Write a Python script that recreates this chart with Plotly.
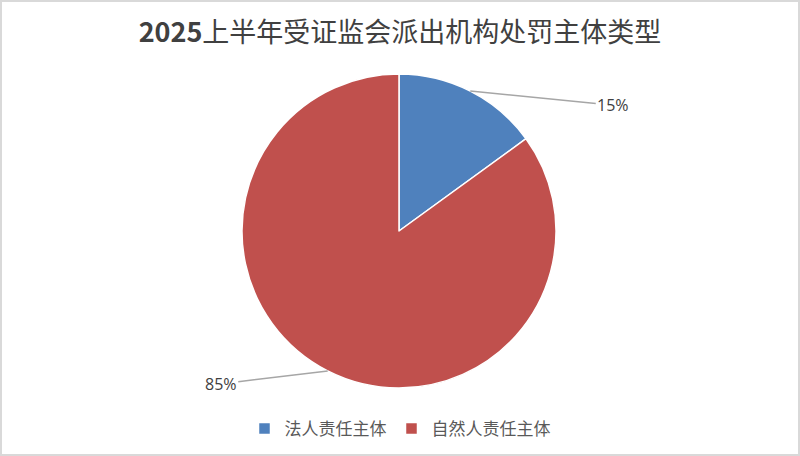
import math
import plotly.graph_objects as go

# data
categories = ["法人责任主体", "自然人责任主体"]
shares = [15, 85]
colors = ["#4F81BD", "#C0504D"]
title_text = "<b>2025</b>上半年受证监会派出机构处罚主体类型"

W, H = 800, 456
cx, cy, r = 399, 231, 157          # pie centre / radius in pixels
label_offsets = [(143, 14), (-107, 13)]  # where the % text sits relative to slice edge

fig = go.Figure(go.Pie(
    labels=categories,
    values=shares,
    sort=False,
    direction="clockwise",
    rotation=0,
    textinfo="none",
    hoverinfo="label+percent",
    marker=dict(colors=colors, line=dict(color="white", width=1.5)),
    domain=dict(x=[(cx - r) / W, (cx + r) / W],
                y=[1 - (cy + r) / H, 1 - (cy - r) / H]),
))

# outside percentage labels with leader lines, placed at each slice's mid angle
total = sum(shares)
cum = 0
annotations = []
for val, (ax, ay) in zip(shares, label_offsets):
    mid = (cum + val / 2) / total * 2 * math.pi
    cum += val
    px = cx + r * math.sin(mid)
    py = cy - r * math.cos(mid)
    annotations.append(dict(
        x=px / W, y=1 - py / H, xref="paper", yref="paper",
        text=f"{round(val / total * 100)}%",
        showarrow=True, arrowhead=0, arrowwidth=1.5, arrowcolor="#A6A6A6",
        standoff=0, ax=ax, ay=ay,
        font=dict(family="Open Sans", size=16, color="#404040"),
    ))

fig.update_layout(
    width=W, height=H,
    margin=dict(l=0, r=0, t=0, b=0),
    paper_bgcolor="white",
    title=dict(text=title_text, x=0.5, xanchor="center", y=1 - 33 / H, yanchor="middle",
               font=dict(family="Noto Sans CJK SC", size=27, color="#404040")),
    legend=dict(orientation="h", x=0.5, xanchor="center", y=1 - 429 / H, yanchor="middle",
                font=dict(family="Noto Sans CJK SC", size=17, color="#595959"),
                itemwidth=30, traceorder="normal"),
    annotations=annotations,
    shapes=[dict(type="rect", xref="paper", yref="paper", x0=0, x1=1, y0=0, y1=1,
                 line=dict(color="#D9D9D9", width=4))],
)

fig.write_html("out.html", config={"displayModeBar": False},
               post_script="document.body.style.margin='0';")
